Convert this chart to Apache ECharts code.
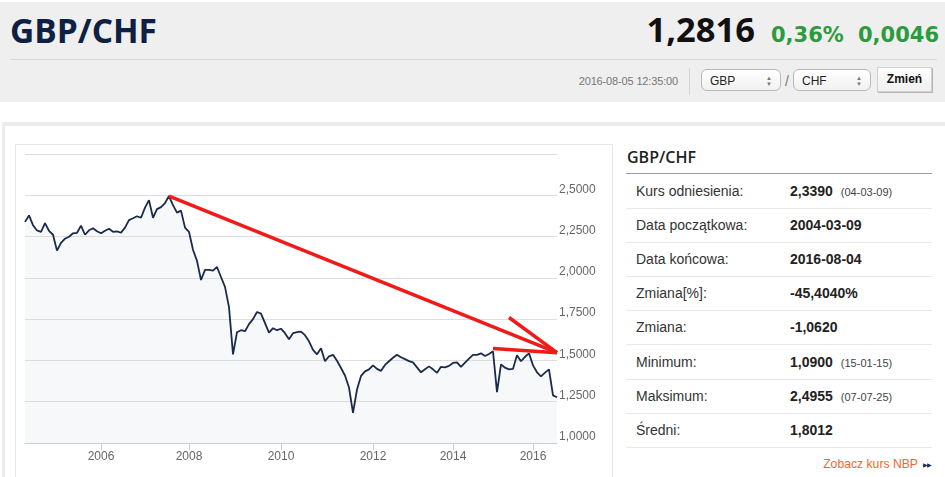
<!DOCTYPE html>
<html>
<head>
<meta charset="utf-8">
<script src="https://cdn.jsdelivr.net/npm/echarts@6/dist/echarts.min.js"></script>
<style>
body { margin:0; width:945px; height:477px; overflow:hidden; background:#fff; position:relative; font-family:"Liberation Sans", Arial, sans-serif; }
.abs { position:absolute; white-space:nowrap; }
#head { position:absolute; left:0; top:2px; width:945px; height:100px; background:#efefef; }
#title { left:10px; top:14px; font:700 33.5px/33.5px "Open Sans"; color:#0e2142; }
#price { right:190px; top:12px; font:700 34.5px/34.5px "Open Sans"; color:#111; }
.green { top:25px; font:700 21px/21px "DejaVu Sans"; color:#2c9a3d; }
#hsep { left:10px; top:59px; width:927px; height:1px; background:#d6d6d6; }
#stamp { right:267px; top:75px; font:11px/13px "Liberation Sans"; color:#777; letter-spacing:-0.15px; }
#vsep { left:689px; top:68px; width:1px; height:27px; background:#d6d6d6; }
.sel { position:absolute; top:69px; height:22px; border:1px solid #b9b9b9; border-radius:6px; background:linear-gradient(#fff,#f1f1f1); font:12px/22px "Liberation Sans"; color:#222; padding-left:8px; box-sizing:border-box; }
.sel .ar { position:absolute; right:8px; top:5px; font-size:6px; line-height:6px; color:#777; }
#slash { left:785px; top:73px; font:14px "Liberation Sans"; color:#777; }
#btn { position:absolute; left:877px; top:67px; width:55px; height:25px; background:linear-gradient(#fdfdfd,#f0f0f0); border:1px solid #d0d0d0; box-shadow:1px 1px 0 #b5b5b5; box-sizing:border-box; font:700 12px/23px "Liberation Sans"; text-align:center; color:#111; }
#outer { position:absolute; left:2px; top:122px; width:950px; height:400px; border-top:4px solid #ececec; border-left:3px solid #ececec; }
#chartbox { position:absolute; left:15px; top:144px; width:596px; height:360px; border:1px solid #e6e6e6; }
#chart { position:absolute; left:16px; top:146px; width:594px; height:331px; }
#ptitle { left:627px; top:148px; font:600 16px/18px "Open Sans"; color:#222; }
#pline { left:626px; top:173px; width:306px; height:1px; background:#9c9c9c; }
.row { position:absolute; left:626px; width:306px; height:34px; border-bottom:1px solid #e8e8e8; }
.row .l { position:absolute; left:10px; top:9px; font:14px/16px "Liberation Sans"; color:#333; }
.row .v { position:absolute; left:164px; top:9px; font:700 14px/16px "Liberation Sans"; color:#222; }
.row .v small { font-weight:400; font-size:11px; color:#444; margin-left:8px; }
#nbp { right:27px; top:457px; font:12.2px/15px "Liberation Sans"; color:#f5662a; }
#nbparr { left:923px; top:461px; font:6px/8px "DejaVu Sans"; color:#1a2a4a; letter-spacing:-0.5px; }
</style>
</head>
<body>
<div id="head"></div>
<div id="title" class="abs">GBP/CHF</div>
<div id="price" class="abs">1,2816</div>
<div class="abs green" style="left:771px">0,36%</div>
<div class="abs green" style="left:858px">0,0046</div>
<div id="hsep" class="abs"></div>
<div id="stamp" class="abs">2016-08-05 12:35:00</div>
<div id="vsep" class="abs"></div>
<div class="sel" style="left:701px;width:80px">GBP<span class="ar">▲<br>▼</span></div>
<div id="slash" class="abs">/</div>
<div class="sel" style="left:793px;width:78px">CHF<span class="ar">▲<br>▼</span></div>
<div id="btn">Zmień</div>
<div id="outer"></div>
<div id="chartbox"></div>
<div id="chart"></div>
<div id="ptitle" class="abs">GBP/CHF</div>
<div id="pline" class="abs"></div>
<div id="rows"></div>
<div id="nbp" class="abs">Zobacz kurs NBP</div>
<div id="nbparr" class="abs">▶▶</div>
<script>
// kurs GBP/CHF, probki
var dates = [
  '2004-03-09','2004-04-14','2004-05-20','2004-06-24','2004-07-29','2004-09-02','2004-10-08','2004-11-12','2004-12-17','2005-01-22',
  '2005-02-26','2005-04-02','2005-05-08','2005-06-12','2005-07-17','2005-08-22','2005-09-26','2005-10-31','2005-12-06','2006-01-09',
  '2006-02-11','2006-03-16','2006-04-18','2006-05-20','2006-06-22','2006-07-25','2006-08-27','2006-09-29','2006-10-31','2006-12-03',
  '2007-01-05','2007-02-07','2007-03-12','2007-04-14','2007-05-16','2007-06-18','2007-07-25','2007-08-23','2007-09-25','2007-10-27',
  '2007-11-29','2008-01-02','2008-02-02','2008-03-07','2008-04-08','2008-05-11','2008-06-12','2008-07-15','2008-08-16','2008-09-18',
  '2008-10-20','2008-11-21','2008-12-24','2009-01-25','2009-02-27','2009-03-31','2009-05-03','2009-06-04','2009-07-07','2009-08-08',
  '2009-09-09','2009-10-12','2009-11-13','2009-12-16','2010-01-17','2010-02-17','2010-03-21','2010-04-21','2010-05-22','2010-06-23',
  '2010-07-24','2010-08-24','2010-09-25','2010-10-26','2010-11-27','2010-12-28','2011-01-28','2011-03-01','2011-04-01','2011-05-03',
  '2011-06-03','2011-07-04','2011-08-05','2011-09-05','2011-10-07','2011-11-07','2011-12-08','2012-01-10','2012-02-15','2012-03-23',
  '2012-04-28','2012-06-03','2012-07-09','2012-08-14','2012-09-19','2012-10-25','2012-11-30','2013-01-05','2013-02-11','2013-03-19',
  '2013-04-24','2013-05-30','2013-07-05','2013-08-10','2013-09-15','2013-10-21','2013-11-26','2014-01-02','2014-02-07','2014-03-15',
  '2014-04-21','2014-05-27','2014-07-03','2014-08-08','2014-09-14','2014-10-20','2014-11-26','2015-01-02','2015-01-15','2015-03-15',
  '2015-04-21','2015-05-27','2015-07-03','2015-08-08','2015-09-14','2015-10-20','2015-11-26','2016-01-04','2016-02-06','2016-03-13',
  '2016-04-18','2016-05-25','2016-06-29','2016-08-04'
];
var rates = [
  2.339,2.378,2.319,2.287,2.279,2.331,2.285,2.261,2.165,2.212,
  2.237,2.249,2.270,2.273,2.316,2.261,2.288,2.300,2.282,2.270,
  2.285,2.297,2.279,2.282,2.273,2.304,2.350,2.361,2.373,2.364,
  2.425,2.471,2.364,2.416,2.428,2.453,2.4955,2.440,2.395,2.407,
  2.304,2.279,2.170,2.103,1.987,2.048,2.048,2.044,2.066,2.005,
  1.945,1.823,1.537,1.671,1.683,1.677,1.720,1.750,1.793,1.783,
  1.726,1.668,1.695,1.683,1.692,1.665,1.628,1.665,1.671,1.674,
  1.653,1.616,1.564,1.537,1.574,1.495,1.525,1.534,1.498,1.454,
  1.409,1.336,1.182,1.324,1.406,1.434,1.446,1.470,1.449,1.437,
  1.473,1.495,1.516,1.534,1.519,1.508,1.496,1.488,1.458,1.428,
  1.446,1.464,1.446,1.425,1.461,1.458,1.467,1.485,1.488,1.461,
  1.487,1.511,1.534,1.534,1.543,1.527,1.539,1.555,1.308,1.476,
  1.456,1.446,1.449,1.531,1.495,1.522,1.543,1.470,1.428,1.403,
  1.426,1.446,1.288,1.277
];
var yearLabels = ['2006', '2008', '2010', '2012', '2014', '2016'];
var yMin = 1, yMax = 2.75, yStep = 0.25;

// czerwona strzalka dorysowana na wykresie (w jednostkach danych)
var arrowLines = [
  [['2007-07-25', 2.4955], ['2016-08-04', 1.547]],
  [['2015-05-27', 1.760], ['2016-08-04', 1.547]],
  [['2015-01-02', 1.572], ['2016-08-04', 1.547]]
];

var tableRows = [
  ['Kurs odniesienia:', '2,3390', '(04-03-09)'],
  ['Data początkowa:', '2004-03-09', ''],
  ['Data końcowa:', '2016-08-04', ''],
  ['Zmiana[%]:', '-45,4040%', ''],
  ['Zmiana:', '-1,0620', ''],
  ['Minimum:', '1,0900', '(15-01-15)'],
  ['Maksimum:', '2,4955', '(07-07-25)'],
  ['Średni:', '1,8012', '']
];

var rowsEl = document.getElementById('rows');
tableRows.forEach(function (r, i) {
  var d = document.createElement('div');
  d.className = 'row';
  d.style.top = (174 + i * 34.1) + 'px';
  d.innerHTML = '<span class="l">' + r[0] + '</span><span class="v">' + r[1] +
    (r[2] ? '<small>' + r[2] + '</small>' : '') + '</span>';
  rowsEl.appendChild(d);
});

function isYearStart(index, value) {
  if (index === 0) return false;
  var y = String(value).slice(0, 4);
  return yearLabels.indexOf(y) >= 0 && dates[index - 1].slice(0, 4) !== y;
}

var chart = echarts.init(document.getElementById('chart'));
chart.setOption({
  animation: false,
  grid: { left: 9, right: 53, top: 8, bottom: 34 },
  xAxis: {
    type: 'category',
    data: dates,
    boundaryGap: false,
    axisLine: { lineStyle: { color: '#c0d0e0', width: 1 } },
    axisTick: { show: true, interval: isYearStart, length: 7, lineStyle: { color: '#c0d0e0' } },
    axisLabel: {
      interval: isYearStart,
      formatter: function (v) { return v.slice(0, 4); },
      color: '#666', fontSize: 12, fontFamily: 'Liberation Sans', margin: 8
    },
    splitLine: { show: false }
  },
  yAxis: {
    type: 'value',
    position: 'right',
    min: yMin, max: yMax, interval: yStep,
    axisLine: { show: false },
    axisTick: { show: false },
    splitLine: { lineStyle: { color: '#dedede', width: 1 } },
    axisLabel: {
      showMaxLabel: false,
      formatter: function (v) { return v.toFixed(4).replace('.', ','); },
      color: '#666', fontSize: 12, fontFamily: 'Liberation Sans',
      margin: 2, verticalAlign: 'bottom'
    }
  },
  series: [{
    type: 'line',
    data: rates,
    symbol: 'none',
    lineStyle: { color: '#1a2a4a', width: 1.8 },
    areaStyle: { color: 'rgba(205,212,225,0.22)' },
    markLine: {
      silent: true,
      symbol: ['none', 'none'],
      label: { show: false },
      lineStyle: { color: '#f01a1a', width: 3.5, type: 'solid' },
      data: arrowLines.map(function (s) {
        return [{ coord: s[0] }, { coord: s[1] }];
      })
    }
  }]
});
</script>
</body>
</html>
